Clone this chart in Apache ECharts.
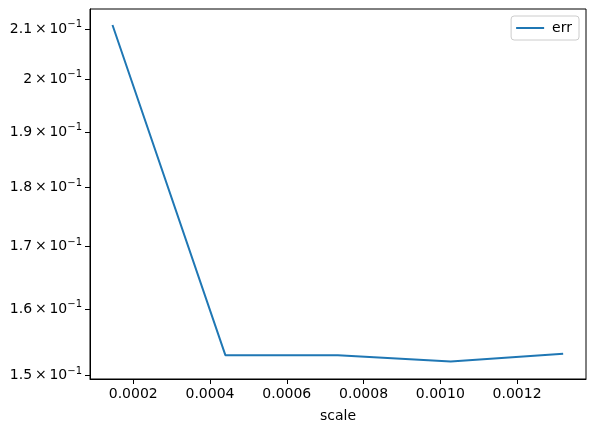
<!DOCTYPE html>
<html>
<head>
<meta charset="utf-8">
<script src="https://cdn.jsdelivr.net/npm/echarts@6/dist/echarts.min.js"></script>
<style>html,body{margin:0;padding:0;background:#fff;}#c{width:595px;height:432px;}</style>
</head>
<body>
<div id="c"></div>
<script>
const scaleValues = [0.000146, 0.00044, 0.000733, 0.001027, 0.00132];
const errValues = [0.2108, 0.1530, 0.1530, 0.15205, 0.1532];
const xTicks = [0.0002, 0.0004, 0.0006, 0.0008, 0.0010, 0.0012];
const yTicks = [0.15, 0.16, 0.17, 0.18, 0.19, 0.20, 0.21];

const chart = echarts.init(document.getElementById('c'), null, {renderer: 'canvas'});
const font = 'DejaVu Sans';
function yLabel(v) {
  const m = Math.round(v * 100) / 10;
  const ms = (Math.abs(m - Math.round(m)) < 1e-9) ? String(Math.round(m)) : m.toFixed(1);
  return '{a|' + ms + '\u2009\u00d7\u200910}{s|\u22121}';
}
chart.setOption({
  animation: false,
  grid: {left: 90, right: 9, top: 9, bottom: 53, show: true, borderColor: '#000', borderWidth: 1, containLabel: false},
  legend: {
    show: true, right: 16, top: 16, orient: 'vertical',
    borderColor: '#cccccc', borderWidth: 1, borderRadius: 3,
    padding: [5, 7, 5, 5], itemWidth: 28, itemHeight: 12, itemGap: 4,
    backgroundColor: 'rgba(255,255,255,0.8)',
    textStyle: {fontFamily: font, fontSize: 14, color: '#000', padding: [0, 0, 0, 3]},
    data: [{name: 'err', icon: 'path://M0,0L28,0L28,2L0,2Z'}]
  },
  xAxis: {
    type: 'value', min: 0.0000874, max: 0.0013795,
    name: 'scale', nameLocation: 'middle', nameGap: 30,
    nameTextStyle: {fontFamily: font, fontSize: 14, color: '#000'},
    axisLine: {show: true, lineStyle: {color: '#000', width: 1}},
    axisTick: {show: true, length: 5, lineStyle: {color: '#000'}, customValues: xTicks},
    axisLabel: {fontFamily: font, fontSize: 14, color: '#000', margin: 8, customValues: xTicks,
      formatter: v => v.toFixed(4)},
    splitLine: {show: false}
  },
  yAxis: {
    type: 'log', logBase: 10, min: 0.1495, max: 0.2141,
    axisLine: {show: true, lineStyle: {color: '#000', width: 1}},
    axisTick: {show: true, length: 5, lineStyle: {color: '#000'}, customValues: yTicks},
    minorTick: {show: false},
    axisLabel: {fontFamily: font, color: '#000', margin: 8, customValues: yTicks,
      formatter: v => yLabel(v),
      rich: {
        a: {fontFamily: font, fontSize: 14, color: '#000'},
        s: {fontFamily: font, fontSize: 10, color: '#000', padding: [0, 0, 9, 0]}
      }},
    splitLine: {show: false}
  },
  series: [{
    name: 'err', type: 'line', symbol: 'none', showSymbol: false,
    lineStyle: {color: '#1f77b4', width: 2}, itemStyle: {color: '#1f77b4'},
    data: scaleValues.map((x, i) => [x, errValues[i]])
  }]
});
</script>
</body>
</html>
